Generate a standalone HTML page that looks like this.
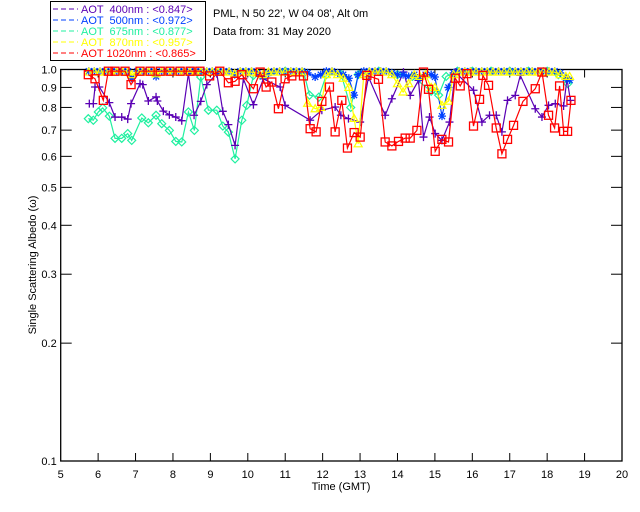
<!DOCTYPE html>
<html><head><meta charset="utf-8"><style>
body{margin:0;background:#fff;}
svg{display:block;font-family:"Liberation Sans",sans-serif;}
</style></head><body>
<svg id="chart" width="640" height="512">
<g>
<rect x="50.5" y="1.5" width="155" height="59" fill="none" stroke="#000"/>
<g><line x1="53" y1="9" x2="78" y2="9" stroke="#5a00b4" stroke-dasharray="5,3"/><text x="81" y="13" font-size="11" fill="#5a00b4" xml:space="preserve">AOT  400nm : &lt;0.847&gt;</text></g>
<g><line x1="53" y1="20" x2="78" y2="20" stroke="#0040ff" stroke-dasharray="5,3"/><text x="81" y="24" font-size="11" fill="#0040ff" xml:space="preserve">AOT  500nm : &lt;0.972&gt;</text></g>
<g><line x1="53" y1="31" x2="78" y2="31" stroke="#20f0a0" stroke-dasharray="5,3"/><text x="81" y="35" font-size="11" fill="#20f0a0" xml:space="preserve">AOT  675nm : &lt;0.877&gt;</text></g>
<g><line x1="53" y1="42" x2="78" y2="42" stroke="#ffff00" stroke-dasharray="5,3"/><text x="81" y="46" font-size="11" fill="#ffff00" xml:space="preserve">AOT  870nm : &lt;0.957&gt;</text></g>
<g><line x1="53" y1="53" x2="78" y2="53" stroke="#ff0000" stroke-dasharray="5,3"/><text x="81" y="57" font-size="11" fill="#ff0000" xml:space="preserve">AOT 1020nm : &lt;0.865&gt;</text></g>
</g>
<text x="213" y="17" font-size="11">PML, N 50 22', W 04 08', Alt 0m</text>
<text x="213" y="35" font-size="11">Data from: 31 May 2020</text>
<text x="341" y="490" font-size="11" text-anchor="middle">Time (GMT)</text>
<text transform="translate(36,265) rotate(-90)" font-size="11" text-anchor="middle">Single Scattering Albedo (ω)</text>
<g id="axes"></g>
<g id="series"></g>
</svg>
<script>
const xTicks=[5,6,7,8,9,10,11,12,13,14,15,16,17,18,19,20];
const yTicks=[1.0,0.9,0.8,0.7,0.6,0.5,0.4,0.3,0.2,0.1];
const yTickLabels=["1.0","0.9","0.8","0.7","0.6","0.5","0.4","0.3","0.2","0.1"];

const t400=[5.765,5.872,5.917,6.032,6.30,6.452,6.631,6.791,6.880,7.120,7.193,7.342,7.548,7.583,7.743,7.904,8.075,8.235,8.412,8.564,8.743,8.904,9.171,9.332,9.481,9.660,9.882,10.150,10.417,10.864,10.997,11.666,11.979,12.334,12.487,12.690,13.003,13.225,13.671,13.850,14.160,14.340,14.561,14.695,14.856,15.008,15.187,15.390,15.543,16.032,16.257,16.460,16.639,16.791,16.941,17.147,17.281,17.682,17.861,18.037,18.217,18.439,18.529,18.62];
const v400=[0.818,0.818,0.902,0.902,0.823,0.756,0.756,0.747,0.818,0.920,0.915,0.831,0.851,0.831,0.783,0.766,0.756,0.740,0.976,0.764,0.829,0.915,0.976,0.782,0.723,0.640,0.947,0.813,0.947,0.902,0.810,0.742,0.787,0.802,0.764,0.749,0.734,0.957,0.764,0.842,0.985,0.859,0.938,0.672,0.756,0.686,0.659,0.734,0.985,0.885,0.734,0.764,0.764,0.693,0.834,0.859,0.966,0.794,0.756,0.810,0.818,0.807,0.947,0.834];

const tTop=[5.75,5.9,6.05,6.2,6.35,6.5,6.65,6.8,6.9,7.05,7.2,7.35,7.5,7.55,7.7,7.85,8.0,8.15,8.3,8.45,8.6,8.75,8.9,9.05,9.2,9.35,9.5,9.65,9.8,9.95,10.1,10.25,10.4,10.55,10.7,10.85,11.0,11.15,11.3,11.45,11.6,11.8,11.95,12.1,12.25,12.4,12.55,12.7,12.84,12.95,13.1,13.25,13.4,13.55,13.7,13.85,14.0,14.15,14.3,14.45,14.6,14.75,14.9,15.0,15.19,15.36,15.5,15.65,15.8,15.95,16.1,16.25,16.4,16.55,16.7,16.85,17.0,17.15,17.3,17.45,17.6,17.75,17.9,18.05,18.2,18.35,18.5,18.6];
const v500=[0.99,0.99,0.99,0.99,0.99,0.99,0.99,0.99,0.95,0.99,0.99,0.99,0.99,0.96,0.99,0.99,0.99,0.99,0.99,0.99,0.99,0.99,0.99,0.99,0.99,0.99,0.99,0.97,0.99,0.99,0.99,0.98,0.96,0.98,0.99,0.99,0.99,0.99,0.99,0.99,0.98,0.957,0.97,0.99,0.99,0.98,0.97,0.95,0.86,0.97,0.99,0.99,0.99,0.99,0.99,0.98,0.97,0.97,0.96,0.97,0.95,0.97,0.97,0.957,0.76,0.90,0.98,0.99,0.99,0.99,0.99,0.99,0.99,0.99,0.99,0.99,0.99,0.99,0.99,0.99,0.99,0.99,0.99,0.99,0.99,0.98,0.95,0.94];
const v870=[0.985,0.985,0.985,0.985,0.985,0.985,0.985,0.985,0.97,0.985,0.985,0.985,0.985,0.975,0.985,0.985,0.985,0.985,0.985,0.985,0.985,0.985,0.985,0.985,0.985,0.985,0.985,0.975,0.985,0.985,0.985,0.98,0.97,0.985,0.985,0.985,0.985,0.985,0.985,0.985,0.82,0.794,0.80,0.97,0.985,0.97,0.95,0.90,0.75,0.646,0.97,0.985,0.985,0.985,0.985,0.97,0.92,0.876,0.92,0.97,0.96,0.97,0.90,0.90,0.81,0.83,0.97,0.985,0.985,0.985,0.985,0.985,0.985,0.985,0.985,0.985,0.985,0.985,0.985,0.985,0.985,0.985,0.985,0.985,0.985,0.97,0.96,0.96];

const t675=[5.738,5.872,6.005,6.123,6.30,6.452,6.631,6.791,6.898,7.166,7.342,7.548,7.70,7.904,8.075,8.235,8.412,8.572,8.743,8.947,9.171,9.332,9.481,9.660,9.840,9.973,10.150,10.5,11.0,11.5,11.65,11.9,12.1,12.5,12.75,12.95,13.5,14.0,14.4,14.9,15.1,15.3,15.6,16.0,16.5,17.0,17.5,18.0,18.3,18.55];
const v675=[0.749,0.742,0.779,0.798,0.760,0.667,0.667,0.686,0.659,0.752,0.731,0.764,0.727,0.699,0.655,0.653,0.779,0.699,0.957,0.787,0.787,0.717,0.692,0.591,0.742,0.810,0.966,0.97,0.99,0.98,0.86,0.85,0.97,0.97,0.80,0.97,0.99,0.97,0.96,0.88,0.86,0.96,0.99,0.99,0.99,0.99,0.99,0.99,0.97,0.92];

const t1020=[5.738,5.917,6.139,6.273,6.45,6.72,6.880,7.12,7.39,7.66,7.92,8.19,8.46,8.72,8.98,9.25,9.481,9.660,9.840,10.150,10.33,10.49,10.642,10.818,10.997,11.176,11.487,11.666,11.826,11.979,12.182,12.334,12.513,12.663,12.842,13.003,13.182,13.492,13.671,13.850,14.027,14.206,14.340,14.519,14.695,14.829,15.008,15.187,15.364,15.543,15.677,15.856,16.032,16.193,16.283,16.433,16.639,16.791,16.941,17.102,17.353,17.682,17.861,18.037,18.198,18.332,18.439,18.546,18.636];
const v1020=[0.970,0.947,0.834,0.990,0.99,0.99,0.915,0.99,0.99,0.99,0.99,0.99,0.99,0.99,0.963,0.99,0.925,0.933,0.970,0.893,0.985,0.902,0.929,0.794,0.947,0.963,0.963,0.706,0.693,0.829,0.902,0.693,0.834,0.630,0.690,0.672,0.966,0.944,0.653,0.638,0.655,0.668,0.668,0.699,0.985,0.890,0.618,0.663,0.653,0.950,0.908,0.976,0.717,0.839,0.966,0.911,0.709,0.609,0.663,0.720,0.829,0.893,0.985,0.764,0.709,0.908,0.695,0.695,0.834];

const X0=60.7,X1=622,Y0=69.5,Y1=461;
function xs(t){return X0+(t-5)/15*(X1-X0);}
function ys(v){return Y0+(-Math.log10(v))*(Y1-Y0);}
const NS="http://www.w3.org/2000/svg";
function mk(tag,attrs,parent){const e=document.createElementNS(NS,tag);for(const k in attrs)e.setAttribute(k,attrs[k]);parent.appendChild(e);return e;}
const axes=document.getElementById('axes'),ser=document.getElementById('series');

const frame=mk('rect',{x:X0,y:Y0,width:X1-X0,height:Y1-Y0,fill:'none',stroke:'#000','stroke-width':1.3},axes);


xTicks.forEach(t=>{
  const x=xs(t);
  if(t>5&&t<20){mk('line',{x1:x,y1:Y1,x2:x,y2:Y1-8,stroke:'#000'},axes);mk('line',{x1:x,y1:Y0,x2:x,y2:Y0+8,stroke:'#000'},axes);}
  const tx=mk('text',{x:x,y:Y1+17,'font-size':11,'text-anchor':'middle'},axes);
  tx.textContent=t;
  
  
});
yTicks.forEach((v,i)=>{
  const y=ys(v);
  if(i>0&&i<yTicks.length-1){mk('line',{x1:X0,y1:y,x2:X0+11,y2:y,stroke:'#000'},axes);mk('line',{x1:X1,y1:y,x2:X1-11,y2:y,stroke:'#000'},axes);}
  const tx=mk('text',{x:X0-4,y:y+4,'font-size':11,'text-anchor':'end'},axes);
  tx.textContent=yTickLabels[i];
  
  
});

function marker(g,type,x,y,c){
  if(type==='plus'){mk('path',{d:`M${x-4},${y}H${x+4}M${x},${y-4}V${y+4}`,stroke:c,'stroke-width':1.3,fill:'none'},g);}
  else if(type==='star'){mk('path',{d:`M${x-4},${y}H${x+4}M${x},${y-4}V${y+4}M${x-3},${y-3}L${x+3},${y+3}M${x-3},${y+3}L${x+3},${y-3}`,stroke:c,'stroke-width':1.3,fill:'none'},g);}
  else if(type==='diamond'){mk('path',{d:`M${x},${y-4}L${x+4},${y}L${x},${y+4}L${x-4},${y}Z`,stroke:c,'stroke-width':1.2,fill:'none'},g);}
  else if(type==='tri'){mk('path',{d:`M${x},${y-4}L${x+4},${y+3}L${x-4},${y+3}Z`,stroke:c,'stroke-width':1.2,fill:'none'},g);}
  else {mk('rect',{x:x-4,y:y-4,width:8,height:8,stroke:c,'stroke-width':1.3,fill:'none'},g);}
}
function draw(name,ts,vs,c,type){
  const g=mk('g',{},ser);
  
  
  const d=ts.map((t,i)=>(i?'L':'M')+xs(t).toFixed(1)+','+ys(vs[i]).toFixed(1)).join('');
  mk('path',{d:d,stroke:c,'stroke-width':1.2,fill:'none'},g);
  ts.forEach((t,i)=>marker(g,type,xs(t),ys(vs[i]),c));
}
draw('series-675nm',t675,v675,'#20f0a0','diamond');
draw('series-400nm',t400,v400,'#5a00b4','plus');
draw('series-500nm',tTop,v500,'#0040ff','star');
draw('series-870nm',tTop,v870,'#ffff00','tri');
draw('series-1020nm',t1020,v1020,'#ff0000','square');
</script>
</body></html>
